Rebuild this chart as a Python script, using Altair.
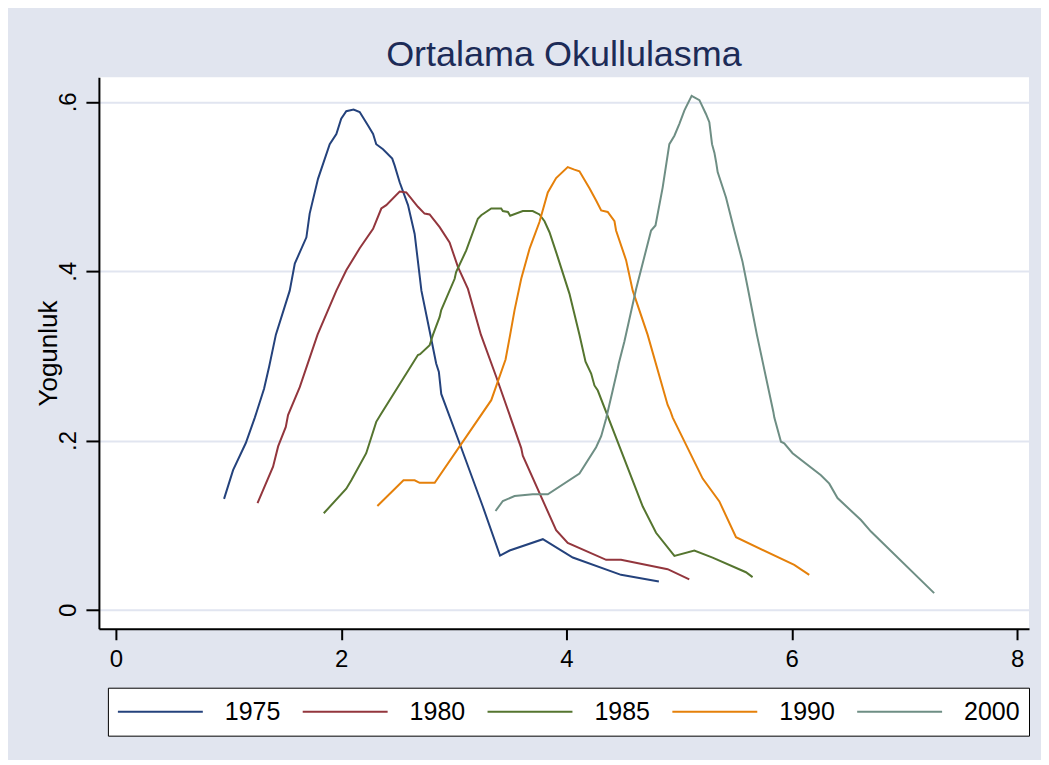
import altair as alt
import pandas as pd

years = ["1975", "1980", "1985", "1990", "2000"]
colors = ["#24427C", "#93363D", "#55752F", "#E5800A", "#6E8E84"]

x_1975 = [0.96, 1.04, 1.153, 1.233, 1.315, 1.36, 1.42, 1.543, 1.588, 1.691, 1.72, 1.794, 1.898, 1.957, 2.0, 2.045, 2.11, 2.164, 2.238, 2.283, 2.311, 2.371, 2.453, 2.474, 2.519, 2.593, 2.652, 2.712, 2.79, 2.843, 2.867, 2.888, 3.05, 3.257, 3.41, 3.495, 3.79, 4.056, 4.484, 4.82]
y_1975 = [0.131, 0.165, 0.197, 0.227, 0.261, 0.287, 0.325, 0.377, 0.409, 0.440, 0.468, 0.509, 0.550, 0.562, 0.580, 0.589, 0.591, 0.588, 0.572, 0.562, 0.550, 0.544, 0.533, 0.525, 0.505, 0.478, 0.444, 0.377, 0.326, 0.291, 0.281, 0.255, 0.197, 0.122, 0.064, 0.070, 0.0834, 0.0617, 0.0413, 0.0334]

x_1980 = [1.257, 1.395, 1.44, 1.508, 1.528, 1.632, 1.79, 1.957, 2.045, 2.164, 2.283, 2.356, 2.40, 2.519, 2.578, 2.681, 2.74, 2.785, 2.874, 2.962, 3.036, 3.125, 3.24, 3.377, 3.598, 3.612, 3.908, 4.011, 4.352, 4.484, 4.898, 5.09]
y_1980 = [0.126, 0.169, 0.193, 0.216, 0.230, 0.263, 0.325, 0.377, 0.401, 0.427, 0.450, 0.474, 0.478, 0.494, 0.493, 0.476, 0.468, 0.467, 0.452, 0.434, 0.405, 0.379, 0.325, 0.275, 0.191, 0.182, 0.094, 0.079, 0.059, 0.059, 0.048, 0.036]

x_1985 = [1.845, 2.045, 2.09, 2.222, 2.311, 2.356, 2.681, 2.70, 2.785, 2.815, 2.874, 2.888, 3.007, 3.02, 3.11, 3.213, 3.243, 3.332, 3.42, 3.435, 3.48, 3.50, 3.612, 3.70, 3.76, 3.805, 3.849, 3.913, 4.026, 4.115, 4.169, 4.219, 4.248, 4.278, 4.677, 4.795, 4.958, 5.135, 5.297, 5.593, 5.652]
y_1985 = [0.114, 0.143, 0.153, 0.185, 0.222, 0.232, 0.301, 0.302, 0.3125, 0.325, 0.346, 0.354, 0.391, 0.399, 0.4245, 0.462, 0.466, 0.474, 0.474, 0.471, 0.470, 0.4655, 0.471, 0.471, 0.467, 0.459, 0.446, 0.4205, 0.3735, 0.325, 0.293, 0.279, 0.265, 0.259, 0.122, 0.091, 0.0637, 0.070, 0.0617, 0.0444, 0.0386]

x_1990 = [2.321, 2.553, 2.652, 2.696, 2.83, 3.332, 3.459, 3.50, 3.539, 3.598, 3.672, 3.687, 3.76, 3.834, 3.908, 4.011, 4.07, 4.115, 4.204, 4.263, 4.308, 4.366, 4.426, 4.44, 4.529, 4.588, 4.72, 4.898, 4.919, 4.943, 5.209, 5.357, 5.505, 6.022, 6.155]
y_1990 = [0.1226, 0.153, 0.153, 0.150, 0.150, 0.2476, 0.2956, 0.325, 0.354, 0.391, 0.4265, 0.432, 0.458, 0.493, 0.510, 0.523, 0.520, 0.518, 0.498, 0.4835, 0.4717, 0.470, 0.459, 0.448, 0.413, 0.377, 0.325, 0.242, 0.236, 0.227, 0.155, 0.128, 0.0857, 0.053, 0.0413]

x_2000 = [3.37, 3.435, 3.539, 3.70, 3.834, 4.115, 4.263, 4.308, 4.352, 4.41, 4.455, 4.464, 4.514, 4.618, 4.751, 4.79, 4.854, 4.913, 4.958, 5.002, 5.047, 5.111, 5.18, 5.238, 5.268, 5.292, 5.313, 5.328, 5.342, 5.416, 5.49, 5.563, 5.608, 5.69, 5.836, 5.845, 5.904, 5.933, 6.007, 6.259, 6.333, 6.406, 6.614, 6.703, 7.264]
y_2000 = [0.1167, 0.1285, 0.1344, 0.1364, 0.1364, 0.161, 0.192, 0.205, 0.226, 0.259, 0.285, 0.291, 0.317, 0.379, 0.448, 0.454, 0.499, 0.550, 0.560, 0.574, 0.590, 0.607, 0.602, 0.5857, 0.576, 0.550, 0.540, 0.529, 0.517, 0.487, 0.448, 0.411, 0.381, 0.325, 0.234, 0.227, 0.1985, 0.1966, 0.185, 0.159, 0.149, 0.132, 0.106, 0.0924, 0.0197]

x_ticks = [0, 2, 4, 6, 8]
y_ticks = [0, 0.2, 0.4, 0.6]

series = {
    "1975": (x_1975, y_1975),
    "1980": (x_1980, y_1980),
    "1985": (x_1985, y_1985),
    "1990": (x_1990, y_1990),
    "2000": (x_2000, y_2000),
}
rows = []
for yr, (xs, ys) in series.items():
    for i, (a, b) in enumerate(zip(xs, ys)):
        rows.append({"year": yr, "x": a, "y": b, "i": i})
df = pd.DataFrame(rows)

FONT = "Liberation Sans"

chart = alt.Chart(df).mark_line(strokeWidth=2).encode(
    x=alt.X("x:Q",
            scale=alt.Scale(domain=[-0.151, 8.106], nice=False, zero=False),
            axis=alt.Axis(values=x_ticks, title=None, grid=False,
                          domainColor="black", domainWidth=2,
                          tickColor="black", tickWidth=2, tickSize=11,
                          labelFontSize=24, labelPadding=8, labelColor="black",
                          labelFont=FONT)),
    y=alt.Y("y:Q",
            scale=alt.Scale(domain=[-0.0224, 0.629], nice=False, zero=False),
            axis=alt.Axis(values=y_ticks, title="Yogunluk",
                          labelExpr="datum.value == 0 ? '0' : replace(format(datum.value, '.1f'), '0.', '.')",
                          grid=True, gridColor="#E1E5F0", gridWidth=2,
                          domainColor="black", domainWidth=2,
                          tickColor="black", tickWidth=2, tickSize=13,
                          labelAngle=270, labelAlign="center", labelBaseline="alphabetic",
                          labelPadding=10, labelFontSize=24, labelColor="black", labelFont=FONT,
                          titleAngle=270, titleX=-42, titleY=276, titleAlign="center",
                          titleBaseline="alphabetic", titleFontSize=26, titleFontWeight="normal",
                          titleColor="black", titleFont=FONT)),
    color=alt.Color("year:N",
                    scale=alt.Scale(domain=years, range=colors),
                    legend=alt.Legend(title=None, orient="none", legendX=9, legendY=611,
                                      direction="horizontal", columns=5,
                                      symbolType="stroke", symbolSize=7225,
                                      symbolStrokeWidth=2, clipHeight=30,
                                      padding=9, columnPadding=21,
                                      labelFontSize=25, labelOffset=21, labelFont=FONT,
                                      labelColor="black",
                                      strokeColor="black", fillColor="white")),
    order="i:Q",
).properties(
    width=931,
    height=552,
    padding={"left": 91, "top": 69, "right": 12, "bottom": 131},
    autosize=alt.AutoSizeParams(type="none"),
    title=alt.TitleParams("Ortalama Okullulasma", fontSize=36, font=FONT,
                          fontWeight="normal", color="#1C2B57",
                          anchor="middle", frame="group", baseline="alphabetic",
                          offset=11, dy=36),
).configure(
    background="#E1E5EF",
).configure_view(
    fill="white", stroke=None,
)

chart.save("out.html", embed_options={"renderer": "svg", "actions": False})
